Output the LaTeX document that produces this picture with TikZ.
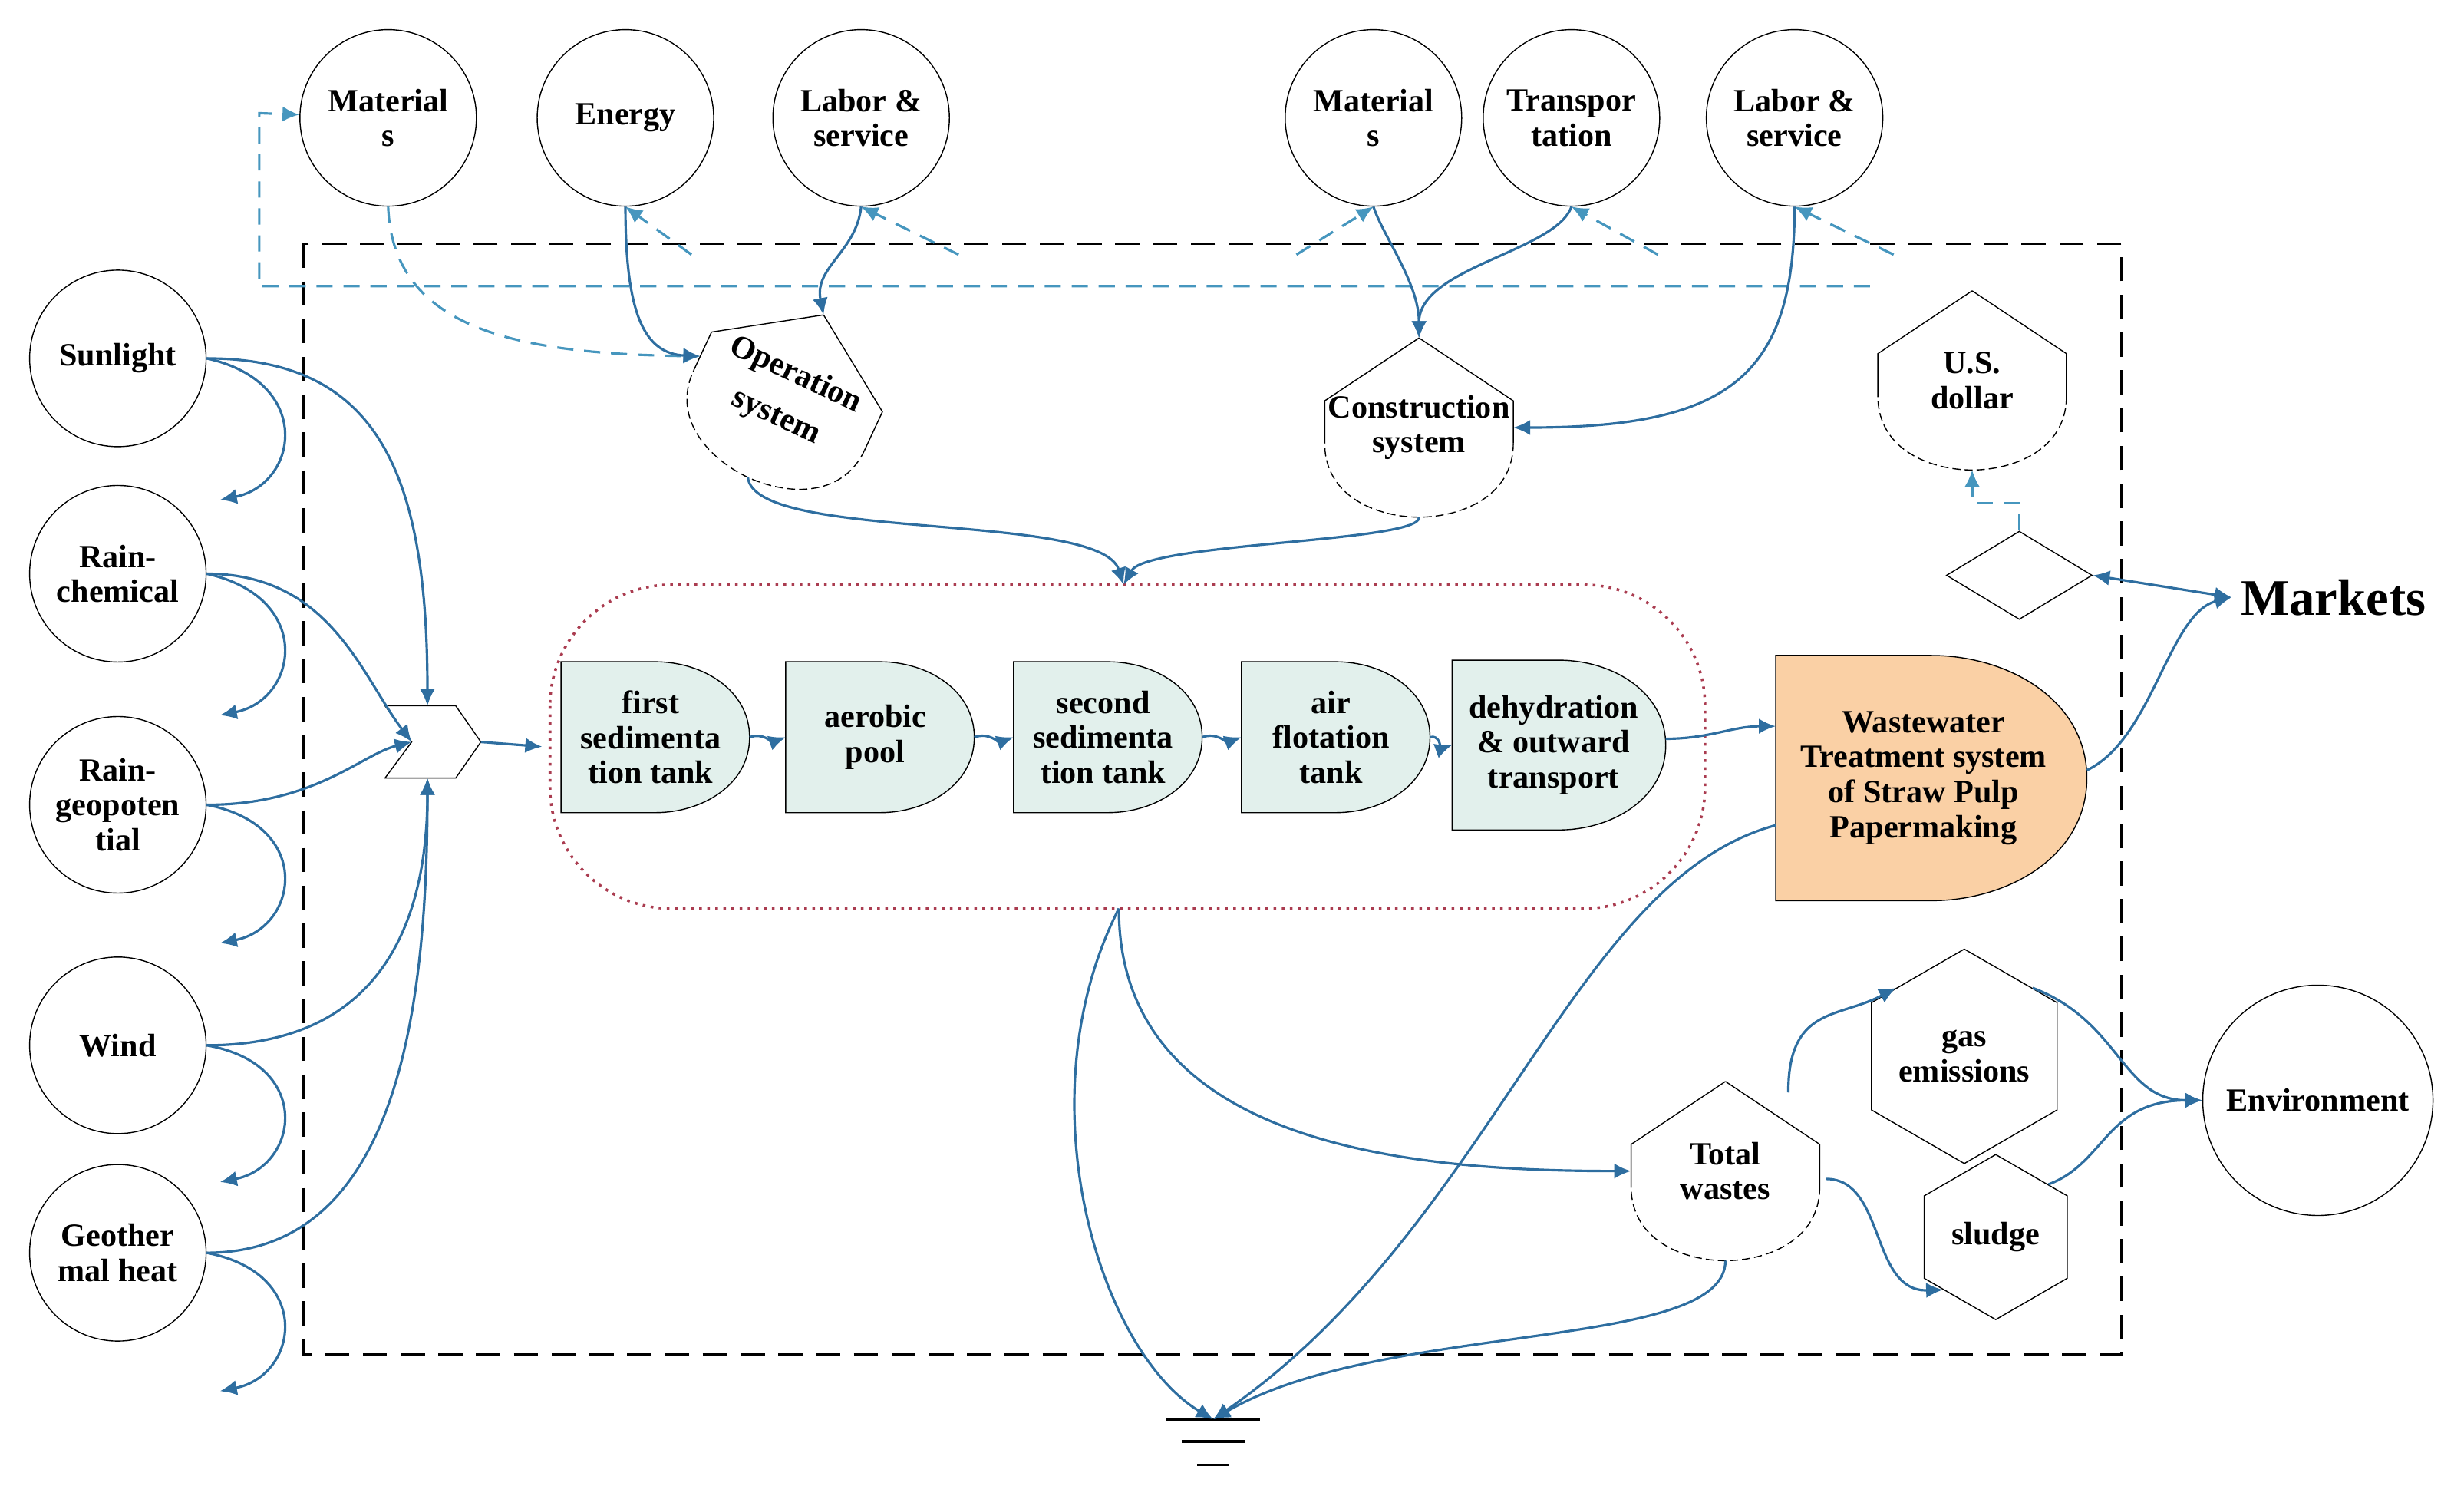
\documentclass[tikz,border=0pt]{standalone}
\usepackage{fontspec}
\setmainfont{Liberation Serif}
\usetikzlibrary{arrows.meta, shapes.geometric, positioning}
\definecolor{flow}{RGB}{46,110,160}
\definecolor{money}{RGB}{70,150,190}
\definecolor{tankfill}{RGB}{226,240,236}
\definecolor{mainfill}{RGB}{250,208,165}
\definecolor{dotred}{RGB}{170,60,80}
\tikzset{
  src/.style={draw, circle, minimum size=2.3cm, inner sep=0pt, align=center, font=\bfseries\fontsize{12}{13}\selectfont},
  lbl/.style={align=center, font=\bfseries\fontsize{12}{13}\selectfont},
  hex/.style={draw, regular polygon, regular polygon sides=6, shape border rotate=30, inner sep=0pt, lbl},
  fl/.style={flow, line width=0.9pt, -{Latex[length=2.2mm,width=2mm]}},
  fd/.style={money, line width=0.9pt, dash pattern=on 6pt off 4pt, -{Latex[length=2.2mm,width=2mm]}},
}
% consumer symbol: name, x, y, rotation, text
\newcommand\consumer[5]{
  \begin{scope}[shift={(#2,#3)}, rotate=#4]
    \draw (0,-57) -- (60,-17) -- (60,10);
    \draw (-60,10) -- (-60,-17) -- (0,-57);
    \draw[dash pattern=on 3pt off 1.5pt] (60,10) .. controls (60,45) and (25,57) .. (0,57)
      .. controls (-25,57) and (-60,45) .. (-60,10);
    \coordinate (#1-t) at (0,-57);
    \coordinate (#1-b) at (0,57);
    \coordinate (#1-l) at (-60,0);
    \coordinate (#1-r) at (60,0);
    \node[lbl, rotate=#4] (#1) at (0,0) {#5};
  \end{scope}
}
% tank symbol: name, x, y, half width, half height, text, fill
\newcommand\tank[7]{
  \draw[fill=#7] ({#2-#4},{#3-#5}) -- (#2,{#3-#5}) to[out=0,in=90] ({#2+#4},#3)
    to[out=-90,in=0] (#2,{#3+#5}) -- ({#2-#4},{#3+#5}) -- cycle;
  \coordinate (#1-l) at ({#2-#4},#3);
  \coordinate (#1-r) at ({#2+#4},#3);
  \node[lbl] (#1) at ({#2-0.05*#4},#3) {#6};
}

\begin{document}
\begin{tikzpicture}[x=0.02048cm, y=-0.02048cm]
  \useasboundingbox (0,0) rectangle (1568,958);

  % system boundary
  \draw[line width=1pt, dash pattern=on 9pt off 5pt] (193,155) rectangle (1350,862);
  \draw[dotred, line width=1pt, dotted, rounded corners=45pt] (350,372) rectangle (1085,578);

  % outside sources
  \node[src] (mat1) at (247,75) {Material\\s};
  \node[src] (ener) at (398,75) {Energy};
  \node[src] (lab1) at (548,75) {Labor \&\\service};
  \node[src] (mat2) at (874,75) {Material\\s};
  \node[src] (tran) at (1000,75) {Transpor\\tation};
  \node[src] (lab2) at (1142,75) {Labor \&\\service};

  \node[src] (sun) at (75,228) {Sunlight};
  \node[src] (rchem) at (75,365) {Rain-\\chemical};
  \node[src] (rgeo) at (75,512) {Rain-\\geopoten\\tial};
  \node[src] (wind) at (75,665) {Wind};
  \node[src] (geo) at (75,797) {Geother\\mal heat};
  \node[src, minimum size=3cm] (env) at (1475,700) {Environment};
  \node[font=\bfseries\fontsize{19}{20}\selectfont] (mark) at (1485,380) {Markets};

  % inner symbols
  \consumer{oper}{500}{252}{-25}{Operation\\[4pt]system}
  \consumer{cons}{903}{272}{0}{Construction\\system}
  \consumer{usd}{1255}{242}{0}{U.S.\\dollar}
  \consumer{waste}{1098}{745}{0}{Total\\wastes}
  \node[draw, diamond, minimum width=1.9cm, minimum height=1.15cm, inner sep=0pt] (trade) at (1285,366) {};

  \draw (245,449) -- (290,449) -- (306,472) -- (290,495) -- (245,495) -- (262,472) -- cycle;
  \coordinate (inter-t) at (272,449);
  \coordinate (inter-l) at (262,472);
  \coordinate (inter-b) at (272,495);
  \coordinate (inter-r) at (306,472);

  \tank{t1}{417}{469}{60}{48}{first\\sedimenta\\tion tank}{tankfill}
  \tank{t2}{560}{469}{60}{48}{aerobic\\pool}{tankfill}
  \tank{t3}{705}{469}{60}{48}{second\\sedimenta\\tion tank}{tankfill}
  \tank{t4}{850}{469}{60}{48}{air\\flotation\\tank}{tankfill}
  \tank{t5}{992}{474}{68}{54}{dehydration\\\& outward\\transport}{tankfill}
  \tank{wwt}{1229}{495}{99}{78}{Wastewater\\Treatment system\\of Straw Pulp\\Papermaking}{mainfill}

  \node[hex, minimum size=2.05cm] (gas) at (1250,672) {gas\\emissions};
  \node[hex, minimum size=2.15cm] (slu) at (1270,787) {sludge};

  % heat sink
  \coordinate (gnd) at (772,903);
  \draw[line width=1pt] (742,903) -- (802,903) (752,917) -- (792,917) (762,932) -- (782,932);

  % money loop
  \coordinate (d1) at (1190,182);
  \coordinate (d2) at (165,182);
  \coordinate (d3) at (165,72);
  \draw[fd] (d1) -- (d2) -- (d3) -- (mat1);
  \draw[fd] (440,162) -- (ener.south);
  \draw[fd] (610,162) -- (lab1.south);
  \draw[fd] (825,162) -- (mat2.south);
  \draw[fd] (1055,162) -- (tran.south);
  \draw[fd] (1205,162) -- (lab2.south);
  \draw[fd] (mat1.south) .. controls (250,210) and (330,225) .. (oper-l);
  \draw[fd] (trade.north) -- (1285,320) -- (1255,320) -- (usd-b);

  % purchased inputs
  \draw[fl] (ener.south) .. controls (398,200) and (410,225) .. (oper-l);
  \draw[fl] (lab1.south) .. controls (545,160) and (518,170) .. (oper-t);
  \draw[fl] (mat2.south) .. controls (880,150) and (903,180) .. (cons-t);
  \draw[fl] (tran.south) .. controls (990,160) and (903,170) .. (cons-t);
  \draw[fl] (lab2.south) .. controls (1142,240) and (1100,272) .. (cons-r);
  \coordinate (proc) at (715,372);
  \draw[fl] (oper-b) .. controls (480,345) and (700,325) .. (proc);
  \draw[fl] (cons-b) .. controls (905,345) and (730,345) .. (proc);

  % renewable inputs
  \draw[fl] (sun.east) .. controls (240,228) and (272,300) .. (inter-t);
  \draw[fl] (rchem.east) .. controls (210,365) and (230,430) .. (inter-l);
  \draw[fl] (rgeo.east) .. controls (200,512) and (230,480) .. (inter-l);
  \draw[fl] (wind.east) .. controls (240,665) and (272,590) .. (inter-b);
  \draw[fl] (geo.east) .. controls (250,797) and (272,650) .. (inter-b);
  \foreach \s/\y in {sun/318, rchem/455, rgeo/600, wind/752, geo/885} {
    \coordinate (\s-sink) at (140,\y);
    \draw[fl] (\s.east) .. controls (200,{\y-75}) and (190,{\y-10}) .. (\s-sink);
  }

  % process chain
  \draw[fl] (inter-r) -- (345,475);
  \draw[fl] (t1-r) to[out=20,in=200] (t2-l);
  \draw[fl] (t2-r) to[out=20,in=200] (t3-l);
  \draw[fl] (t3-r) to[out=20,in=200] (t4-l);
  \draw[fl] (t4-r) to[out=20,in=200] (t5-l);
  \draw[fl] (1060,470) to[out=0,in=180] (1130,462);
  \draw[fl] (1328,490) .. controls (1370,470) and (1380,390) .. (mark.west);
  \draw[fl, {Latex[length=2.2mm,width=2mm]}-{Latex[length=2.2mm,width=2mm]}] (trade.east) -- (mark.west);

  % wastes
  \coordinate (pout) at (712,578);
  \draw[fl] (pout) .. controls (712,730) and (900,745) .. (waste-l);
  \draw[fl] (pout) .. controls (650,700) and (700,860) .. (gnd);
  \draw[fl] (1130,525) .. controls (1000,560) and (950,780) .. (gnd);
  \draw[fl] (waste-b) .. controls (1098,860) and (880,840) .. (gnd);
  \draw[fl] (1138,695) .. controls (1138,640) and (1170,648) .. (gas.north west);
  \draw[fl] (1162,750) .. controls (1200,750) and (1190,822) .. (slu.south west);
  \draw[fl] (gas.north east) .. controls (1350,650) and (1350,700) .. (env.west);
  \draw[fl] (slu.north east) .. controls (1340,740) and (1340,700) .. (env.west);
\end{tikzpicture}
\end{document}
